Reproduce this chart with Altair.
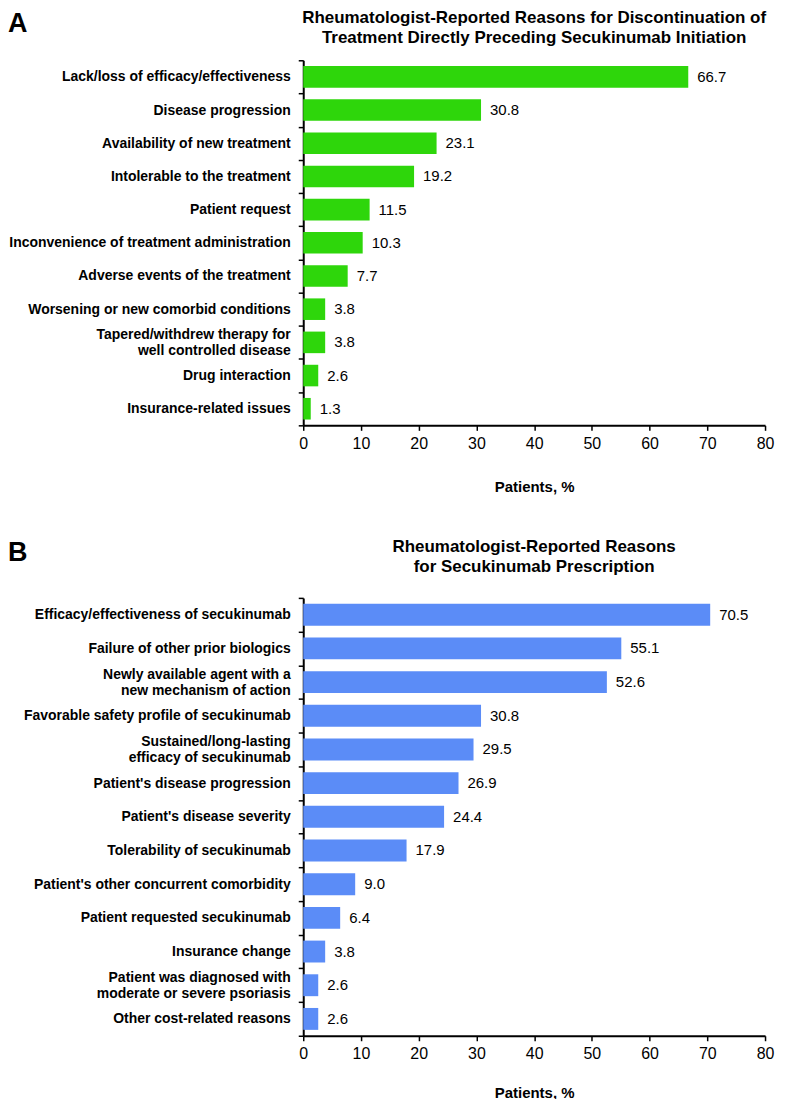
import altair as alt
import pandas as pd
import json

# Panel A data
a_reasons = [
    "Lack/loss of efficacy/effectiveness",
    "Disease progression",
    "Availability of new treatment",
    "Intolerable to the treatment",
    "Patient request",
    "Inconvenience of treatment administration",
    "Adverse events of the treatment",
    "Worsening or new comorbid conditions",
    "Tapered/withdrew therapy for|well controlled disease",
    "Drug interaction",
    "Insurance-related issues",
]
a_values = [66.7, 30.8, 23.1, 19.2, 11.5, 10.3, 7.7, 3.8, 3.8, 2.6, 1.3]
a_title = ["Rheumatologist-Reported Reasons for Discontinuation of",
           "Treatment Directly Preceding Secukinumab Initiation"]

# Panel B data
b_reasons = [
    "Efficacy/effectiveness of secukinumab",
    "Failure of other prior biologics",
    "Newly available agent with a|new mechanism of action",
    "Favorable safety profile of secukinumab",
    "Sustained/long-lasting|efficacy of secukinumab",
    "Patient's disease progression",
    "Patient's disease severity",
    "Tolerability of secukinumab",
    "Patient's other concurrent comorbidity",
    "Patient requested secukinumab",
    "Insurance change",
    "Patient was diagnosed with|moderate or severe psoriasis",
    "Other cost-related reasons",
]
b_values = [70.5, 55.1, 52.6, 30.8, 29.5, 26.9, 24.4, 17.9, 9.0, 6.4, 3.8, 2.6, 2.6]
b_title = ["Rheumatologist-Reported Reasons", "for Secukinumab Prescription"]

x_ticks = [0, 10, 20, 30, 40, 50, 60, 70, 80]
x_title = "Patients, %"
FONT = "Liberation Sans"
NB = "\u00a0"

# two-line labels are centred as a block in the original: pad the shorter line
label_pad = {
    "Tapered/withdrew therapy for|well controlled disease": (0, 5),
    "Newly available agent with a|new mechanism of action": (0, 2),
    "Sustained/long-lasting|efficacy of secukinumab": (2, 0),
    "Patient was diagnosed with|moderate or severe psoriasis": (2, 0),
}


def label_expr(reasons):
    expr = "split(datum.label, '|')"
    for r in reasons:
        if r in label_pad:
            p1, p2 = label_pad[r]
            l1, l2 = r.split("|")
            arr = json.dumps([l1 + NB * p1, l2 + NB * p2])
            expr = f"datum.label == {json.dumps(r)} ? {arr} : ({expr})"
    return expr


def panel(reasons, values, title, letter, color, height, title_y, letter_y, x_title_pad):
    df = pd.DataFrame({"reason": reasons, "value": values})
    y = alt.Y(
        "reason:N",
        sort=reasons,
        scale=alt.Scale(paddingInner=0, paddingOuter=0),
        axis=alt.Axis(
            title=None,
            tickBand="extent",
            labelExpr=label_expr(reasons),
            labelFontSize=14,
            labelFontWeight="bold",
            labelPadding=8,
            labelLimit=400,
            labelLineHeight=16,
            labelFont=FONT,
            labelColor="black",
            labelOffset={"condition": {"test": "indexof(datum.label, '|') >= 0", "value": -8}, "value": 0},
        ),
    )
    x = alt.X(
        "value:Q",
        scale=alt.Scale(domain=[0, 80], nice=False),
        axis=alt.Axis(
            values=x_ticks,
            grid=False,
            title=x_title,
            titleFontSize=15,
            titleFontWeight="bold",
            titleFont=FONT,
            titleColor="black",
            titlePadding=x_title_pad,
            labelFontSize=16,
            labelFont=FONT,
            labelColor="black",
            labelPadding=5,
            labelFlush=False,
        ),
    )
    base = alt.Chart(df)
    bars = base.mark_bar(color=color, height={"band": 0.65}).encode(x=x, y=y)
    labels = base.mark_text(
        align="left", baseline="middle", dx=9, fontSize=15, font=FONT, color="black"
    ).encode(x="value:Q", y=alt.Y("reason:N", sort=reasons), text=alt.Text("value:Q", format=".1f"))
    letter_mark = alt.Chart(pd.DataFrame({"t": [letter]})).mark_text(
        align="left", baseline="middle", fontSize=27, fontWeight="bold", font=FONT, color="black"
    ).encode(text="t:N", x=alt.value(-296), y=alt.value(letter_y))
    title_mark = alt.Chart(pd.DataFrame({"t": ["|".join(title)]})).mark_text(
        align="center", baseline="top", fontSize=17, fontWeight="bold", font=FONT,
        color="black", lineBreak="|", lineHeight=20,
    ).encode(text="t:N", x=alt.value(463 / 2), y=alt.value(title_y))
    return alt.layer(bars, labels, letter_mark, title_mark).properties(width=463, height=height)


chart_a = panel(a_reasons, a_values, a_title, "A", "#2ED60B", 366, -50, -36, 28)
chart_b = panel(b_reasons, b_values, b_title, "B", "#5B8CF7", 439, -59, -45, 24)

chart = (
    alt.vconcat(chart_a, chart_b, spacing=44)
    .properties(padding={"left": 0, "top": 0, "right": 5, "bottom": 0})
    .configure_view(strokeWidth=0)
    .configure_axis(
        domainColor="black", domainWidth=2, tickColor="black", tickWidth=1.5, tickSize=5
    )
)

chart.save("out.html", embed_options={"renderer": "svg", "actions": False})
